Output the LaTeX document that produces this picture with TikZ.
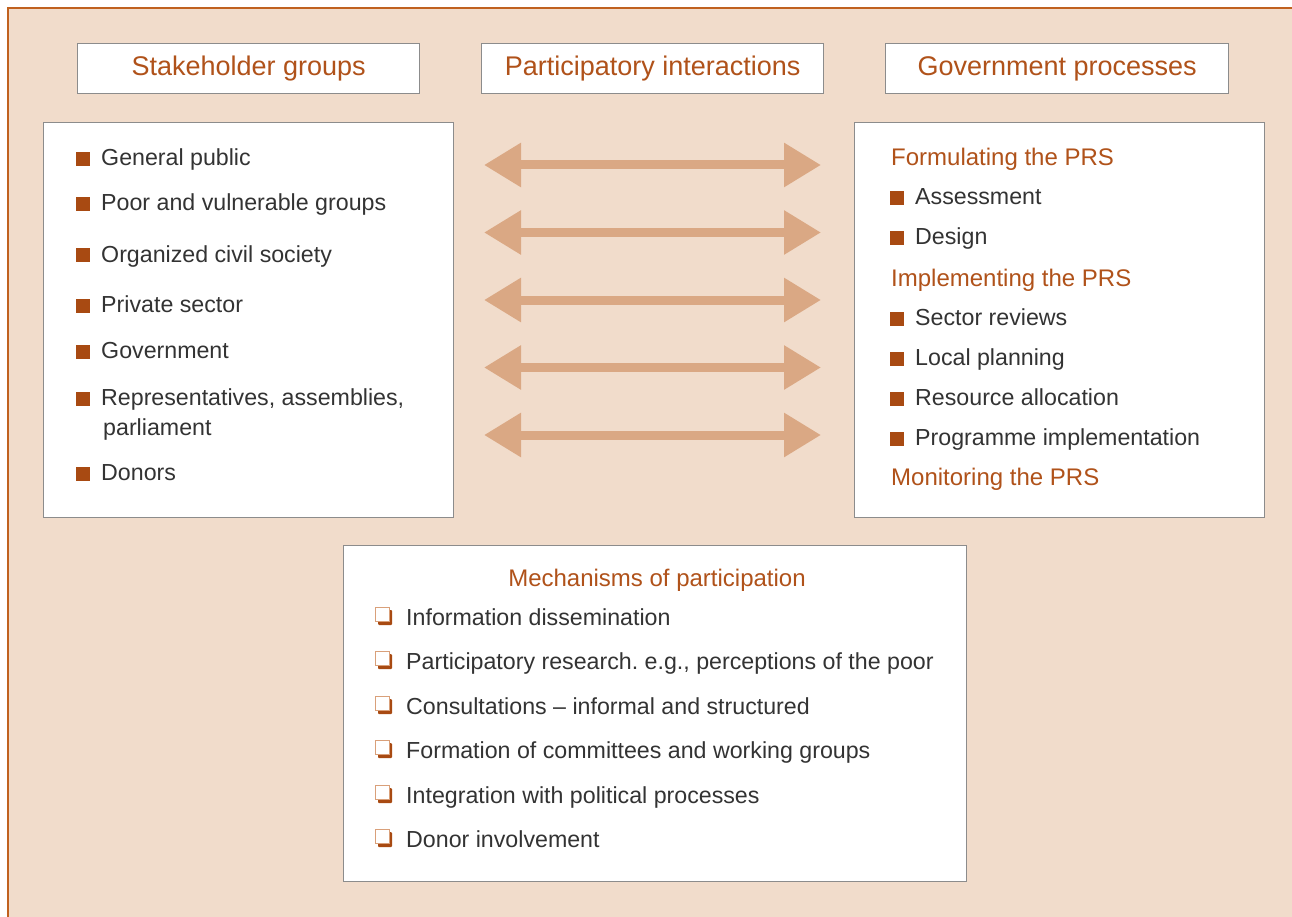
\documentclass[tikz,border=0pt]{standalone}
\usepackage{fontspec}
\setmainfont{Liberation Sans}
\usetikzlibrary{arrows.meta}
\definecolor{bgc}{HTML}{F1DCCB}
\definecolor{brd}{HTML}{C0611F}
\definecolor{org}{HTML}{B0521A}
\definecolor{bulc}{HTML}{A84A12}
\definecolor{arrc}{HTML}{DAA884}
\definecolor{txt}{HTML}{333333}
\definecolor{boxl}{HTML}{8C8C8C}
\definecolor{cbl}{HTML}{D9A07A}
\frenchspacing
\begin{document}
\begin{tikzpicture}[x=1pt,y=-1pt,
 panel/.style={draw=boxl, line width=1.3pt, fill=white, anchor=north west, inner sep=0pt},
 hdr/.style={panel, minimum width=342pt, minimum height=50pt, font=\fontsize{27}{30}\selectfont, text=org},
 item/.style={anchor=base west, inner sep=0pt, text=txt, font=\fontsize{23.2}{27}\selectfont},
 sub/.style={anchor=base west, inner sep=0pt, text=org, font=\fontsize{24}{28}\selectfont},
 sqb/.style={fill=bulc, inner sep=0pt, minimum size=14pt},
 twoway/.style={draw=arrc, line width=9pt, {Triangle[length=37pt,width=42pt]}-{Triangle[length=37pt,width=42pt]}},
 cbox/.pic={\fill[bulc, rounded corners=1pt] (3,3) rectangle (17,18); \filldraw[fill=white, draw=cbl, line width=1pt] (0,0) rectangle (14,14);}
]
\useasboundingbox (0,0) rectangle (1292,917);
\fill[white] (0,0) rectangle (1292,917);
\fill[bgc] (8,8) rectangle (1292,917);
\draw[brd, line width=1.5pt] (8,917) -- (8,8) -- (1292,8);

% headers
\node[hdr] (h1) at (77,43) {Stakeholder groups};
\node[hdr] (h2) at (481,43) {Participatory interactions};
\node[hdr, minimum width=343pt] (h3) at (885,43) {Government processes};

% panels
\node[panel, minimum width=410pt, minimum height=395pt] (left) at (43,122) {};
\node[panel, minimum width=410pt, minimum height=395pt] (right) at (854,122) {};
\node[panel, minimum width=623pt, minimum height=336pt] (bottom) at (343,545) {};

% left list
\foreach \y/\t [count=\i] in {158/General public, 203/Poor and vulnerable groups, 254/Organized civil society, 304/Private sector, 350/Government, 397/{Representatives, assemblies,}, 472/Donors}{
  \node[sqb] (lb\i) at (83,\y+1.5) {};
  \node[item] (lt\i) at (101,\y+8) {\t};
}
\node[item] (lt8) at (103,435) {parliament};

% right list
\node[sub] (rs1) at (891,166) {Formulating the PRS};
\node[sub] (rs2) at (891,286) {Implementing the PRS};
\node[sub] (rs3) at (891,485) {Monitoring the PRS};
\foreach \y/\t [count=\i] in {197/Assessment, 237/Design, 317/Sector reviews, 357/Local planning, 397/Resource allocation, 437/Programme implementation}{
  \node[sqb] (rb\i) at (897,\y+1.5) {};
  \node[item] (rt\i) at (915,\y+8) {\t};
}

% bottom list
\node[sub, anchor=base] (ms) at (657,586) {Mechanisms of participation};
\foreach \y/\t [count=\i] in {617/Information dissemination, 661/{Participatory research. e.g., perceptions of the poor}, 706/Consultations -- informal and structured, 750/Formation of committees and working groups, 795/Integration with political processes, 839/Donor involvement}{
  \pic at (375,\y-10) {cbox};
  \node[item] (mt\i) at (406,\y+8) {\t};
}

% arrows
\foreach \y [count=\i] in {165,232.5,300,367.5,435}{
  \coordinate (aL\i) at (484,\y);
  \coordinate (aR\i) at (821,\y);
  \draw[twoway] (aL\i) -- (aR\i);
}
\end{tikzpicture}
\end{document}
